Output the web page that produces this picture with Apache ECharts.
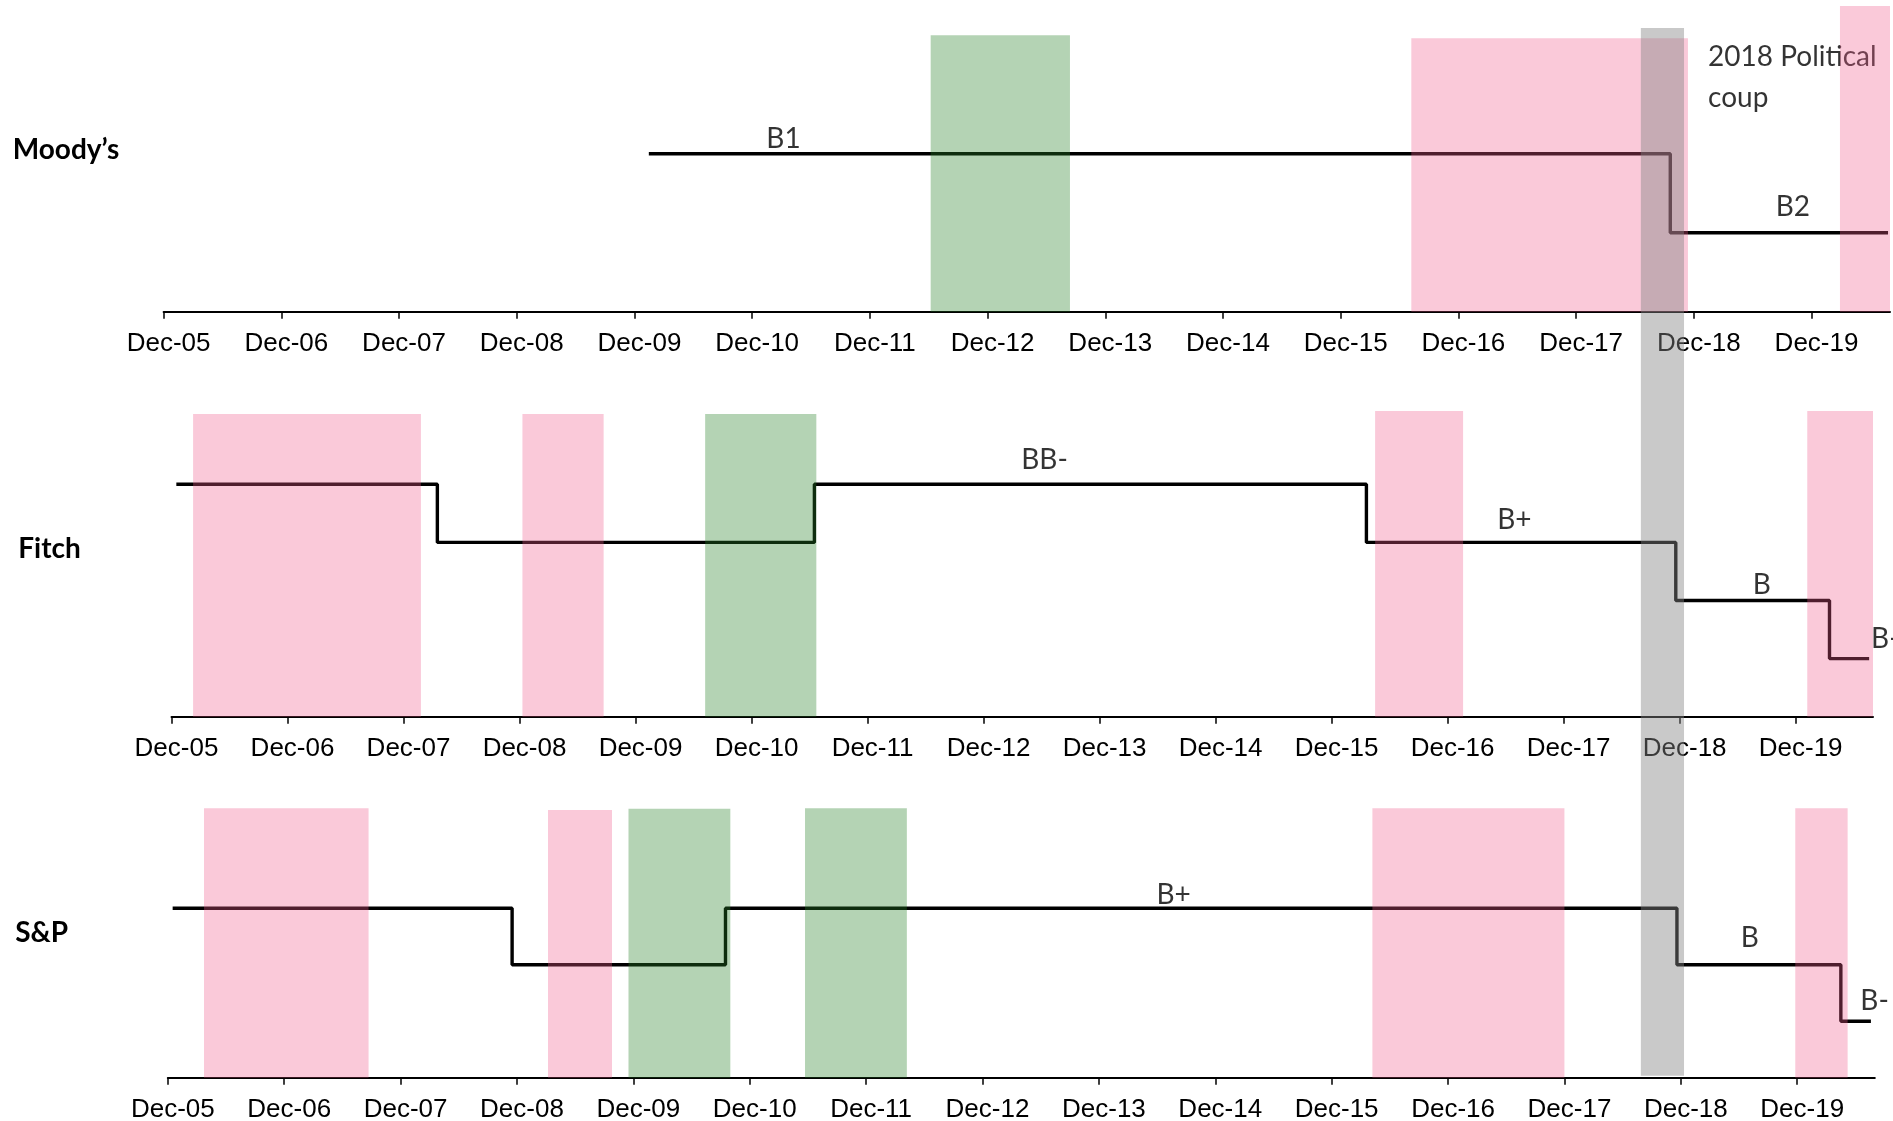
<!DOCTYPE html>
<html>
<head>
<meta charset="utf-8">
<script src="https://cdn.jsdelivr.net/npm/echarts@6/dist/echarts.min.js"></script>
<style>
  html, body { margin: 0; padding: 0; background: #fff; }
  #chart { width: 1893px; height: 1121px; }
</style>
</head>
<body>
<div id="chart"></div>
<script>
// ---------------- DATA ----------------
const tickLabels = ['Dec-05','Dec-06','Dec-07','Dec-08','Dec-09','Dec-10','Dec-11','Dec-12',
                    'Dec-13','Dec-14','Dec-15','Dec-16','Dec-17','Dec-18','Dec-19'];
const axisStart = '2005-12-01';
const axisEnd = '2020-08-01';

const panelNames = ['Moody\u2019s', 'Fitch', 'S&P'];

// rating scales (lowest first)
const moodysScale = ['B2', 'B1'];
const fitchScale = ['B-', 'B', 'B+', 'BB-'];
const spScale = ['B-', 'B', 'B+'];

// rating history: date a rating starts, and the rating
const moodysDates = ['2010-01-15', '2018-09-19', '2020-07-25'];
const moodysRatings = ['B1', 'B2', 'B2'];

const fitchDates = ['2005-12-16', '2008-03-16', '2011-06-16', '2016-03-19', '2018-11-19', '2020-03-16', '2020-07-19'];
const fitchRatings = ['BB-', 'B+', 'BB-', 'B+', 'B', 'B-', 'B-'];

const spDates = ['2005-12-16', '2008-11-16', '2010-09-16', '2018-11-19', '2020-04-16', '2020-07-19'];
const spRatings = ['B+', 'B', 'B+', 'B', 'B-', 'B-'];

// shaded periods: [start, end, kind, height in rating notches]
const moodysBands = [
  ['2012-06-07', '2013-08-13', 'boom', 3.5],
  ['2016-07-07', '2018-11-13', 'bust', 3.46],
  ['2020-02-28', '2020-08-01', 'bust', 3.87]
];
const fitchBands = [
  ['2006-02-08', '2008-01-25', 'bust', 5.21],
  ['2008-12-10', '2009-08-22', 'bust', 5.21],
  ['2010-07-07', '2011-06-22', 'boom', 5.21],
  ['2016-04-16', '2017-01-19', 'bust', 5.26],
  ['2020-01-07', '2020-08-01', 'bust', 5.26]
];
const spBands = [
  ['2006-03-23', '2007-08-22', 'bust', 4.77],
  ['2009-03-07', '2009-09-25', 'bust', 4.74],
  ['2009-11-16', '2010-10-01', 'boom', 4.76],
  ['2011-05-22', '2012-04-07', 'boom', 4.77],
  ['2016-04-07', '2017-12-01', 'bust', 4.77],
  ['2019-11-25', '2020-05-07', 'bust', 4.77]
];

// 2018 political coup period
const coupStart = '2018-06-19';
const coupEnd = '2018-11-01';
const coupText = '2018 Political\ncoup';

// rating text annotations: [text, date, level]
const moodysLabels = [['B1', '2011-03-07', 2.19], ['B2', '2019-10-04', 1.32]];
const fitchLabels = [['BB-', '2013-06-10', 4.42], ['B+', '2017-06-28', 3.39], ['B', '2019-08-16', 2.26], ['B-', '2020-07-25', 1.33]];
const spLabels = [['B+', '2014-07-22', 3.235], ['B', '2019-07-04', 2.47], ['B-', '2020-06-16', 1.35]];

// ---------------- HELPERS ----------------
function toM(s) {
  const p = s.split('-').map(Number);
  return (p[0] - 2005) * 12 + (p[1] - 12) + (p[2] - 1) / 30;
}
const xMin = toM(axisStart);
const xMax = toM(axisEnd);
const tickValues = tickLabels.map((_, i) => i * 12);

const BUST = 'rgba(240,90,140,0.33)';
const BOOM = 'rgba(40,130,40,0.35)';
const COUP = 'rgba(132,132,132,0.44)';
const labelFont = 'Lato';

function stepData(dates, ratings, scale) {
  return dates.map((d, i) => [toM(d), scale.indexOf(ratings[i]) + 1]);
}
function bandData(bands) {
  return bands.map(b => ({ value: [toM(b[0]), toM(b[1]), b[3]], itemStyle: { color: b[2] === 'boom' ? BOOM : BUST } }));
}
function labelData(labels) {
  return labels.map(l => ({
    value: [toM(l[1]), l[2]],
    name: l[0],
    label: l[0] === 'B-' ? { position: 'right', distance: 0, align: 'left' } : { position: 'inside' }
  }));
}
function renderRect(params, api) {
  const p0 = api.coord([api.value(0), api.value(2)]);
  const p1 = api.coord([api.value(1), 0]);
  return {
    type: 'rect',
    shape: { x: p0[0], y: p0[1], width: p1[0] - p0[0], height: p1[1] - p0[1] },
    style: { fill: api.visual('color') }
  };
}

// ---------------- LAYOUT ----------------
const grids = [
  { left: 163.6, width: 1726.4, top: 3.6, height: 308.1, ymax: 3.9 },
  { left: 171.5, width: 1701.5, top: 397.15, height: 319.55, ymax: 5.5 },
  { left: 167.8, width: 1707.0, top: 795.2, height: 282.5, ymax: 5.0 },
  { left: 163.6, width: 1726.4, top: 28, height: 1047.7, ymax: 1 }
];

const xAxes = grids.map((g, i) => ({
  type: 'value', gridIndex: i, min: xMin, max: xMax, show: i < 3,
  axisLine: { show: true, onZero: false, lineStyle: { color: '#000', width: 2 } },
  axisTick: { show: true, length: 7, lineStyle: { color: '#000', width: 1.5 }, customValues: tickValues },
  axisLabel: {
    customValues: tickValues,
    formatter: v => tickLabels[Math.round(v / 12)] || '',
    fontFamily: 'Liberation Sans', fontSize: 26, color: '#000', margin: 19,
    padding: [0, 0, 0, 10]
  },
  splitLine: { show: false }
}));
const yAxes = grids.map((g, i) => ({
  type: 'value', gridIndex: i, min: 0, max: g.ymax, show: false
}));

const panelSpecs = [
  { dates: moodysDates, ratings: moodysRatings, scale: moodysScale, bands: moodysBands, labels: moodysLabels },
  { dates: fitchDates, ratings: fitchRatings, scale: fitchScale, bands: fitchBands, labels: fitchLabels },
  { dates: spDates, ratings: spRatings, scale: spScale, bands: spBands, labels: spLabels }
];

const series = [];
panelSpecs.forEach((p, i) => {
  series.push({
    type: 'line', xAxisIndex: i, yAxisIndex: i, step: 'end', z: 2,
    data: stepData(p.dates, p.ratings, p.scale),
    showSymbol: false, symbol: 'none', silent: true,
    lineStyle: { color: '#000', width: 3.4 }
  });
  series.push({
    type: 'scatter', xAxisIndex: i, yAxisIndex: i, z: 2, clip: false,
    symbolSize: 0.1, itemStyle: { color: 'transparent' }, silent: true,
    data: labelData(p.labels),
    label: { show: true, formatter: '{b}', fontFamily: labelFont, fontSize: 28, color: '#000' }
  });
  series.push({
    type: 'custom', xAxisIndex: i, yAxisIndex: i, z: 5, silent: true,
    renderItem: renderRect, encode: { x: [0, 1], y: 2 },
    data: bandData(p.bands)
  });
});
// coup annotation text (under the bands)
series.push({
  type: 'scatter', xAxisIndex: 3, yAxisIndex: 3, z: 1, clip: false,
  symbolSize: 0.1, itemStyle: { color: 'transparent' }, silent: true,
  data: [{ value: [toM(coupEnd), 0.953], name: coupText }],
  label: { show: true, position: 'right', distance: 24, formatter: '{b}', align: 'left',
           fontFamily: labelFont, fontSize: 28, lineHeight: 40.6, color: '#000' }
});
// coup band across all panels (on top)
series.push({
  type: 'custom', xAxisIndex: 3, yAxisIndex: 3, z: 10, silent: true,
  renderItem: renderRect, encode: { x: [0, 1], y: 2 },
  data: [{ value: [toM(coupStart), toM(coupEnd), 1], itemStyle: { color: COUP } }]
});

const namePos = [[12.7, 150.4], [18.2, 548.7], [15.2, 932.5]];
const graphic = panelNames.map((n, i) => ({
  type: 'text', x: namePos[i][0], y: namePos[i][1], z: 1,
  style: { text: n, font: 'bold 28px Lato', fill: '#000',
           textAlign: 'left', align: 'left', textVerticalAlign: 'middle', verticalAlign: 'middle' }
}));

const chart = echarts.init(document.getElementById('chart'), null, { renderer: 'canvas' });
chart.setOption({
  animation: false,
  backgroundColor: '#fff',
  grid: grids.map(g => ({ left: g.left, width: g.width, top: g.top, height: g.height,
                          containLabel: false, outerBoundsMode: 'none' })),
  xAxis: xAxes,
  yAxis: yAxes,
  series: series,
  graphic: graphic
});
</script>
</body>
</html>
